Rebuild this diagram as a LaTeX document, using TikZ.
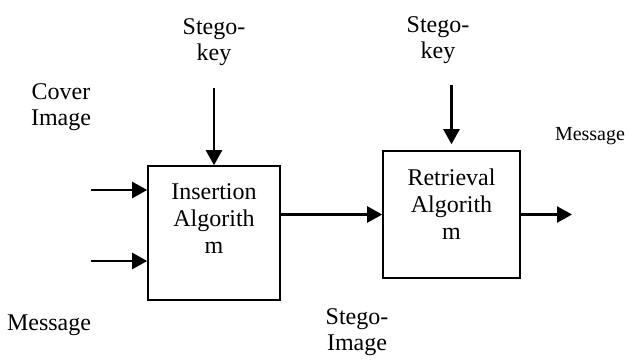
\documentclass[tikz,border=0pt]{standalone}
\usepackage{fontspec}
\setmainfont{Liberation Serif}
\usetikzlibrary{positioning,arrows.meta}

\begin{document}
\begin{tikzpicture}[
	x=0.5pt,y=-0.5pt,
	algobox/.style={draw, line width=0.8pt, inner sep=0pt},
	boxtext/.style={align=center, inner sep=0pt, font=\fontsize{12}{13.5}\selectfont},
	tag/.style={align=center, inner sep=0pt, font=\fontsize{12}{13}\selectfont},
	flow/.style={-{Triangle[length=7.5pt,width=8pt]}, line width=1.2pt}
	]
	
	\useasboundingbox (0,0) rectangle (630,360);
	
	% ---------------------------------------------------------
	% EMBEDDING SIDE
	% ---------------------------------------------------------
	
	\node[
	algobox,
	minimum width=66pt,
	minimum height=67pt
	]
	(insert) at (214,233)
	{};
	
	\node[boxtext, below=9pt of insert.north]
	(inserttext)
	{Insertion\\Algorith\\m};
	
	\node[tag] (keyA) at (214,42) {Stego-\\key};
	\node[tag] (cover) at (61,107) {Cover\\Image};
	\node[tag] (msgin) at (49,325) {Message};
	
	\coordinate (coverin) at (91,190);
	\coordinate (msgstart) at (91,261);
	
	% ---------------------------------------------------------
	% EXTRACTION SIDE
	% ---------------------------------------------------------
	
	\node[
	algobox,
	minimum width=68.5pt,
	minimum height=63.5pt
	]
	(retrieve) at (451.5,214.5)
	{};
	
	\node[boxtext, below=9pt of retrieve.north]
	(retrievetext)
	{Retrieval\\Algorith\\m};
	
	\node[tag] (keyB) at (438,40) {Stego-\\key};
	\node[tag] (stegoimg) at (357,332) {Stego-\\Image};
	\node[tag, font=\fontsize{10}{12}\selectfont] (msgout) at (590,136) {Message};
	
	\coordinate (msgend) at (572,214.5);
	
	% ---------------------------------------------------------
	% ARROWS
	% ---------------------------------------------------------
	
	\draw[flow]
	(coverin) -- (coverin -| insert.west);
	
	\draw[flow]
	(msgstart) -- (msgstart -| insert.west);
	
	\draw[flow]
	(insert.north |- 0,88) -- (insert.north);
	
	\draw[flow]
	(retrieve.west -| insert.east) -- (retrieve.west);
	
	\draw[flow, shorten >=3pt]
	(retrieve.north |- 0,85) -- (retrieve.north);
	
	\draw[flow]
	(retrieve.east) -- (msgend);
	
\end{tikzpicture}
\end{document}
